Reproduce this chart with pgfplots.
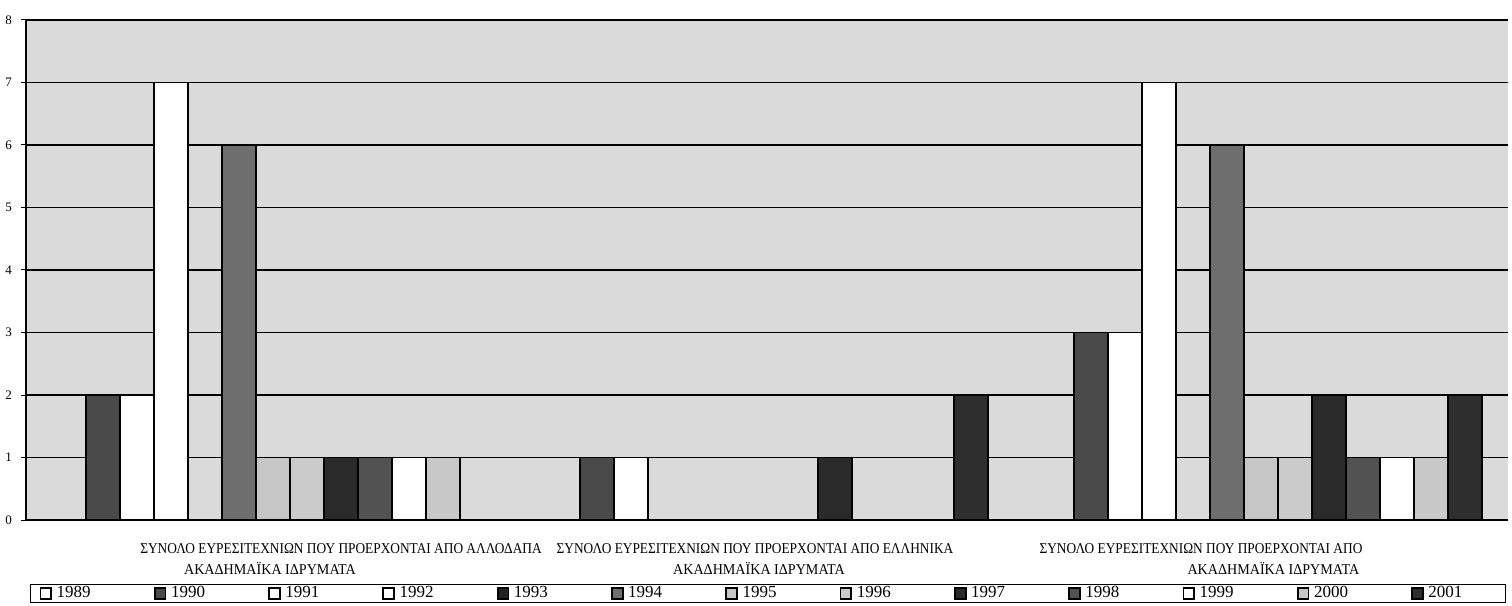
\documentclass[border=0pt]{standalone}
\usepackage{fontspec}
\setmainfont{Liberation Serif}
\usepackage{graphicx}
\usepackage{pgfplots}
\pgfplotsset{compat=1.18}
\definecolor{bg}{HTML}{DADADA}
\definecolor{cA}{HTML}{FFFFFF}
\definecolor{c1990}{HTML}{4A4A4A}
\definecolor{c1993}{HTML}{222222}
\definecolor{c1994}{HTML}{6E6E6E}
\definecolor{c1995}{HTML}{C6C6C6}
\definecolor{c1996}{HTML}{CBCBCB}
\definecolor{c1997}{HTML}{2A2A2A}
\definecolor{c1998}{HTML}{525252}
\definecolor{c2000}{HTML}{C8C8C8}
\definecolor{c2001}{HTML}{2E2E2E}
\newcommand{\cl}[1]{\scalebox{0.89}[1]{#1}}
\newcommand{\cm}[1]{\scalebox{0.94}[1]{#1}}
\newcommand{\legent}[2][49.25pt]{\makebox[#1][l]{\hspace{1.5pt}#2}}
\begin{document}
\begin{tikzpicture}
\begin{axis}[name=ax, scale only axis, width=741pt, height=250pt,
  ybar=0pt, bar width=17pt,
  xmin=-0.5, xmax=2.5, ymin=0, ymax=8,
  xtick={0,1,2}, xticklabels={}, xtick style={draw=none},
  ytick={0,1,2,3,4,5,6,7,8},
  ymajorgrids, major grid style={black, line width=0.85pt},
  axis x line*=bottom, axis y line*=left,
  axis line style={-, black, line width=0.9pt},
  tick align=outside, major tick length=2.5pt, ytick style={black, line width=0.5pt},
  tick label style={font=\fontsize{6.5}{7}\selectfont},
  /pgf/number format/assume math mode=true,
  yticklabel style={xshift=-1pt},
  axis background/.style={fill=bg},
  clip=false,
  every axis plot/.append style={draw=black, line width=0.9pt},
  legend columns=13,
  legend image code/.code={\draw[#1, line width=0.9pt] (0pt,-2.7pt) rectangle (5.4pt,2.7pt);},
  legend style={at={(axis description cs:0.0027,-0.128)}, anchor=north west,
    draw=black, line width=0.5pt, inner xsep=4.5pt, inner ysep=0.3pt,
    font=\fontsize{8.5}{9.5}\selectfont,
    nodes={inner ysep=0.6pt, inner xsep=0.8pt},
    /tikz/every even column/.append style={column sep=0pt},
    /tikz/every odd column/.append style={column sep=0pt},
    cells={anchor=west}},
]
\addplot[fill=cA]    coordinates {(0,0) (1,0) (2,0)};
\addplot[fill=c1990] coordinates {(0,2) (1,1) (2,3)};
\addplot[fill=cA]    coordinates {(0,2) (1,1) (2,3)};
\addplot[fill=cA]    coordinates {(0,7) (1,0) (2,7)};
\addplot[fill=c1993] coordinates {(0,0) (1,0) (2,0)};
\addplot[fill=c1994] coordinates {(0,6) (1,0) (2,6)};
\addplot[fill=c1995] coordinates {(0,1) (1,0) (2,1)};
\addplot[fill=c1996] coordinates {(0,1) (1,0) (2,1)};
\addplot[fill=c1997] coordinates {(0,1) (1,1) (2,2)};
\addplot[fill=c1998] coordinates {(0,1) (1,0) (2,1)};
\addplot[fill=cA]    coordinates {(0,1) (1,0) (2,1)};
\addplot[fill=c2000] coordinates {(0,1) (1,0) (2,1)};
\addplot[fill=c2001] coordinates {(0,0) (1,2) (2,2)};
\legend{\legent{1989},\legent{1990},\legent{1991},\legent{1992},\legent{1993},\legent{1994},\legent{1995},
  \legent{1996},\legent{1997},\legent{1998},\legent{1999},\legent{2000},\legent[35pt]{2001}}
\begin{scope}[font=\fontsize{7.5}{8}\selectfont]
\node[anchor=base, inner sep=0pt, yshift=-16.5pt] at (axis cs:0.1377,0) {\cl{ΣΥΝΟΛΟ ΕΥΡΕΣΙΤΕΧΝΙΩΝ ΠΟΥ ΠΡΟΕΡΧΟΝΤΑΙ ΑΠΟ ΑΛΛΟΔΑΠΑ}};
\node[anchor=base, inner sep=0pt, yshift=-27pt] at (axis cs:-0.0061,0) {\cm{ΑΚΑΔΗΜΑΪΚΑ ΙΔΡΥΜΑΤΑ}};
\node[anchor=base, inner sep=0pt, yshift=-16.5pt] at (axis cs:0.9757,0) {\cl{ΣΥΝΟΛΟ ΕΥΡΕΣΙΤΕΧΝΙΩΝ ΠΟΥ ΠΡΟΕΡΧΟΝΤΑΙ ΑΠΟ ΕΛΛΗΝΙΚΑ}};
\node[anchor=base, inner sep=0pt, yshift=-27pt] at (axis cs:0.9838,0) {\cm{ΑΚΑΔΗΜΑΪΚΑ ΙΔΡΥΜΑΤΑ}};
\node[anchor=base, inner sep=0pt, yshift=-16.5pt] at (axis cs:1.8785,0) {\cl{ΣΥΝΟΛΟ ΕΥΡΕΣΙΤΕΧΝΙΩΝ ΠΟΥ ΠΡΟΕΡΧΟΝΤΑΙ ΑΠΟ}};
\node[anchor=base, inner sep=0pt, yshift=-27pt] at (axis cs:2.025,0) {\cm{ΑΚΑΔΗΜΑΪΚΑ ΙΔΡΥΜΑΤΑ}};
\end{scope}
\end{axis}
\pgfresetboundingbox
\path[use as bounding box] ([xshift=-13pt,yshift=-42.5pt]ax.south west) rectangle ([xshift=2pt,yshift=10pt]ax.north east);
\end{tikzpicture}
\end{document}
